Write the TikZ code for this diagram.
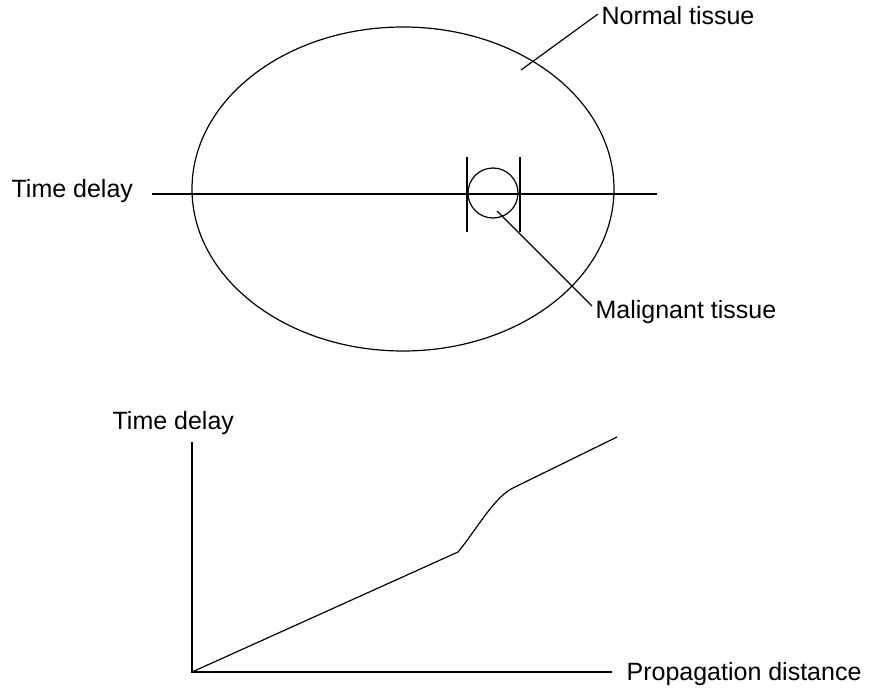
\documentclass[tikz,border=0pt]{standalone}
\usepackage{fontspec}
\setmainfont{Liberation Sans}
\begin{document}
\begin{tikzpicture}[x=1pt,y=-1pt, line width=1.2pt,
  lbl/.style={font=\fontsize{25}{29}\selectfont, inner sep=0pt, anchor=base west}]
\useasboundingbox (0,0) rectangle (874,695);
% top part
\draw (403,189) ellipse [x radius=211pt, y radius=162pt];
\coordinate (hl) at (152,194);
\coordinate (hr) at (657,194);
\draw (hl) -- (hr);
\node[draw, circle, minimum size=50pt, inner sep=0pt] (tumor) at (493,193) {};
\coordinate (b1t) at (467,157); \coordinate (b1b) at (467,232);
\coordinate (b2t) at (520,157); \coordinate (b2b) at (520,232);
\draw (b1t) -- (b1b);
\draw (b2t) -- (b2b);
\node[lbl] (td1) at (11,197) {Time delay};
\node[lbl] (nt) at (601,25) {Normal tissue};
\node[lbl] (mt) at (595,318) {Malignant tissue};
\coordinate (ntA) at (521,70); \coordinate (ntB) at (598,14);
\draw (ntA) -- (ntB);
\coordinate (mtA) at (497,211); \coordinate (mtB) at (592,306);
\draw (mtA) -- (mtB);
% graph
\coordinate (O) at (192,672);
\coordinate (yt) at (192,442);
\coordinate (xr) at (612,672);
\draw (yt) -- (O) -- (xr);
\node[lbl] (td2) at (112,429) {Time delay};
\node[lbl] (pd) at (626,680) {Propagation distance};
\coordinate (k1) at (458,552);
\coordinate (k2) at (515,487);
\coordinate (cend) at (617,437);
\draw (O) -- (k1) .. controls (475,532) and (495,495) .. (k2) -- (cend);
\end{tikzpicture}
\end{document}
